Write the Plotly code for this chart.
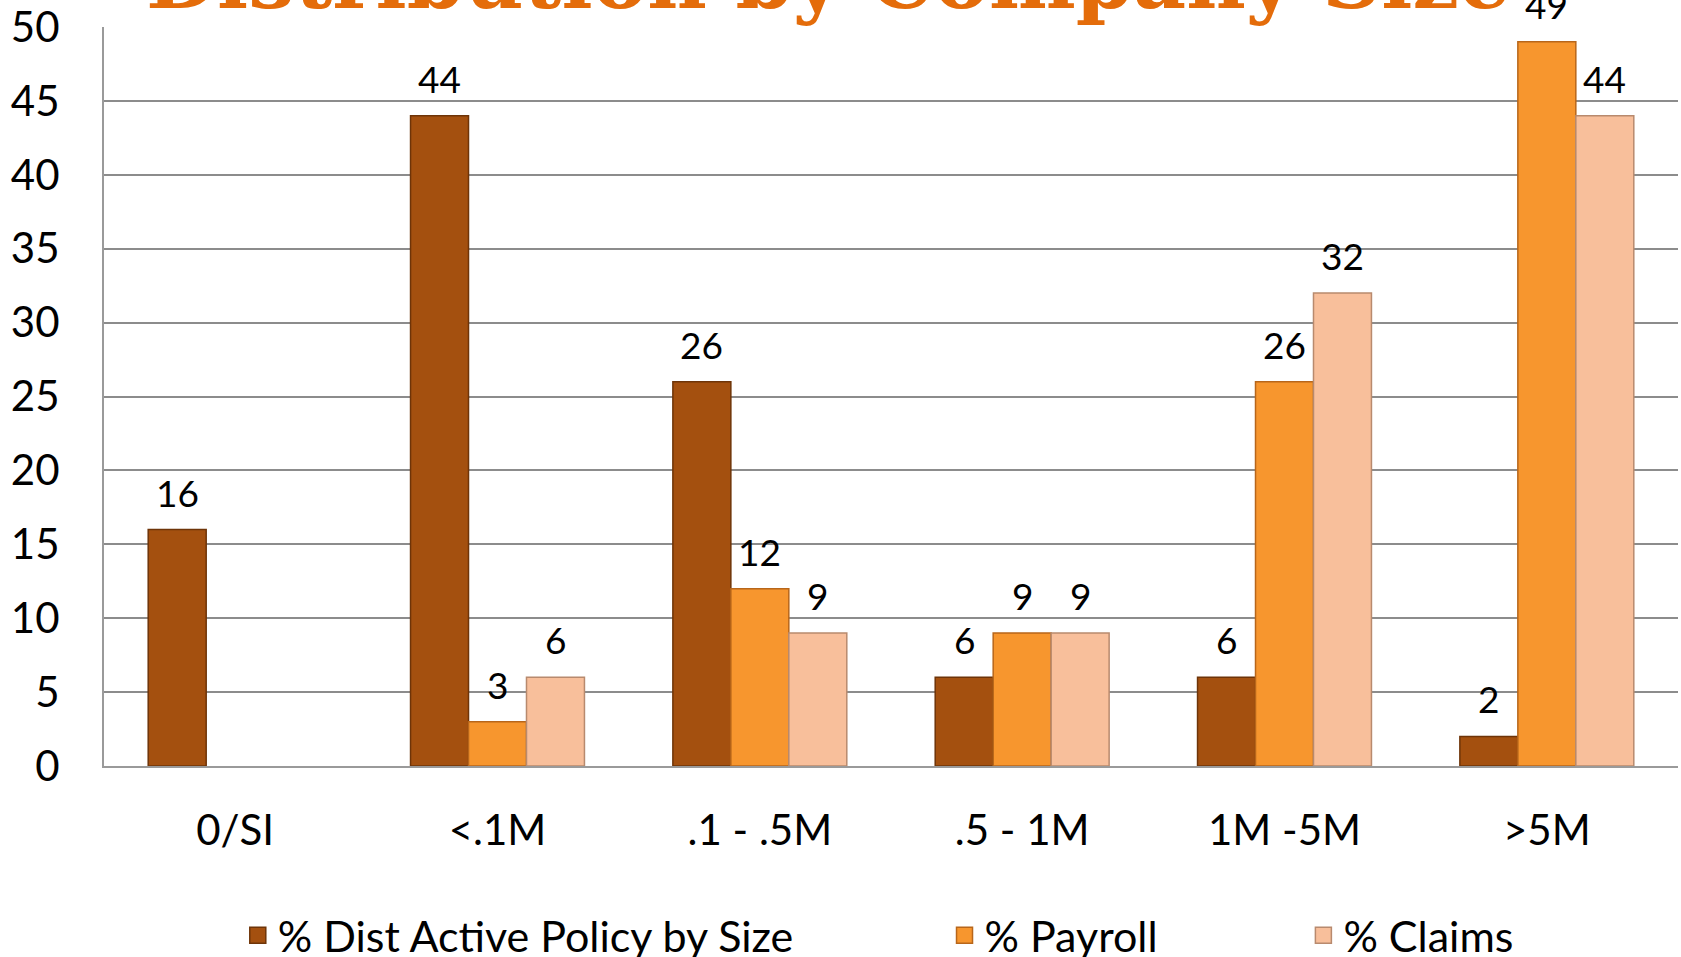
import plotly.graph_objects as go

# data
categories = ['0/SI', '<.1M', '.1 - .5M', '.5 - 1M', '1M -5M', '>5M']
dist_policy = [16, 44, 26, 6, 6, 2]
payroll     = [None, 3, 12, 9, 26, 49]
claims      = [None, 6, 9, 9, 32, 44]
series_names = ['% Dist Active Policy by Size', '% Payroll', '% Claims']
y_ticks = [0, 5, 10, 15, 20, 25, 30, 35, 40, 45, 50]

colors  = ['#A4500F', '#F7962E', '#F8BF9B']
edges   = ['#6E3408', '#B8661A', '#B88A6E']
FONT    = 'Lato, Calibri, sans-serif'

W, H = 1681, 957
M_L, M_R, M_T, M_B = 104, 3, 27, 191
BARGAP = 0.337

fig = go.Figure()

all_series = [dist_policy, payroll, claims]
for i, vals in enumerate(all_series):
    fig.add_trace(go.Bar(
        x = categories,
        y = vals,
        name = series_names[i],
        marker = dict(color=colors[i], line=dict(color=edges[i], width=1.5)),
        showlegend = False,
    ))
    # legend-only marker so the swatch can be as big as in the original
    fig.add_trace(go.Scatter(
        x = [None], y = [None],
        mode = 'markers',
        name = series_names[i],
        marker = dict(symbol='square', size=26, color=colors[i],
                      line=dict(color=edges[i], width=1.5)),
        legend = ['legend', 'legend2', 'legend3'][i],
    ))

# data labels above every bar
plot_w  = W - M_L - M_R
cat_w   = plot_w / len(categories)
bar_w   = cat_w * (1 - BARGAP) / 3
for i, vals in enumerate(all_series):
    for cat, v in zip(categories, vals):
        if v is None:
            continue
        fig.add_annotation(
            x = cat, y = v,
            xref = 'x', yref = 'y',
            text = str(v),
            showarrow = False,
            xshift = (i - 1) * bar_w,
            yanchor = 'bottom',
            yshift = 13,
            font = dict(family=FONT, size=37, color='black'),
        )

# title, cut off at the top of the page as in the original
fig.add_annotation(
    x = (828 - M_L) / plot_w, y = 1.0,
    xref = 'paper', yref = 'paper',
    text = '<b>Distribution by Company Size</b>',
    showarrow = False,
    xanchor = 'center', yanchor = 'bottom',
    yshift = -2,
    font = dict(family='DejaVu Serif, serif', size=82, color='#E46C0A'),
)

legend_base = dict(
    orientation = 'h',
    yanchor = 'middle', y = -0.229,
    xanchor = 'left',
    font = dict(family=FONT, size=43, color='black'),
    bgcolor = 'rgba(0,0,0,0)',
    itemwidth = 30,
)

fig.update_layout(
    width = W, height = H,
    margin = dict(l=M_L, r=M_R, t=M_T, b=M_B, autoexpand=False),
    paper_bgcolor = 'white',
    plot_bgcolor = 'white',
    barmode = 'group',
    bargap = BARGAP,
    bargroupgap = 0,
    legend  = dict(legend_base, x=0.085),
    legend2 = dict(legend_base, x=0.534),
    legend3 = dict(legend_base, x=0.762),
    xaxis = dict(
        range = [-0.5, 5.5],
        automargin = False,
        showgrid = False,
        showline = True, linecolor = '#9A9A9A', linewidth = 2,
        ticks = '',
        ticklabelstandoff = 27,
        tickfont = dict(family=FONT, size=42, color='black'),
    ),
    yaxis = dict(
        range = [0, 50],
        automargin = False,
        tickvals = y_ticks,
        showgrid = True, gridcolor = '#8C8C8C', gridwidth = 2,
        showline = True, linecolor = '#9A9A9A', linewidth = 2,
        zeroline = False,
        ticks = '',
        ticklabelstandoff = 34,
        tickfont = dict(family=FONT, size=42, color='black'),
    ),
)

# page has a default 8px body margin; drop it so the figure fills the window
fig.write_html("out.html",
               config = {'displayModeBar': False},
               post_script = "document.body.style.margin='0';")
